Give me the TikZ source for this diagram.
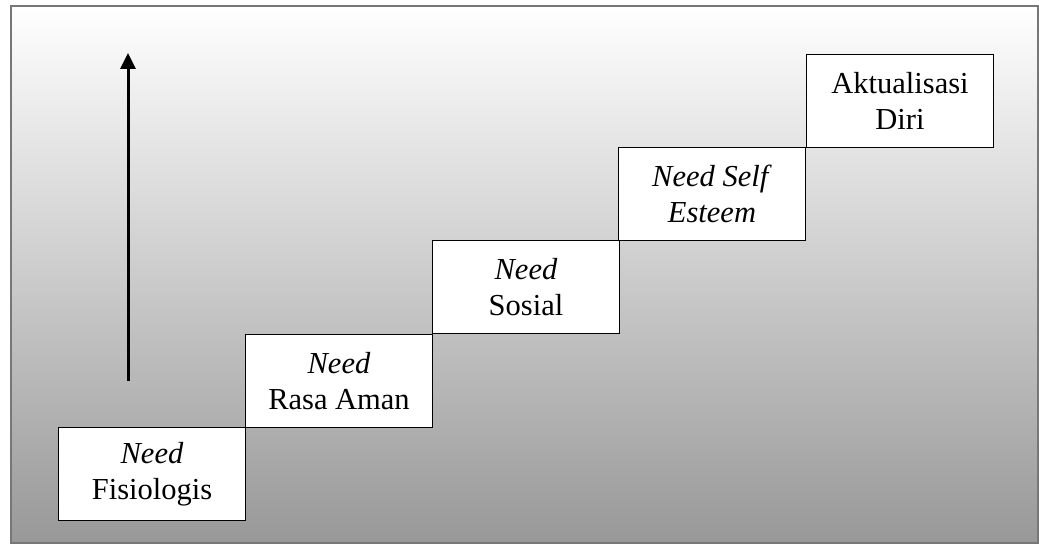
\documentclass[tikz,border=0pt]{standalone}
\usepackage{fontspec}
\setmainfont{Liberation Serif}
\usetikzlibrary{arrows.meta}
\definecolor{framegray}{HTML}{777777}
\definecolor{shadebottom}{HTML}{989898}
\tikzset{
  stair/.style={draw=black, line width=1pt, fill=white, minimum width=187pt,
    minimum height=93pt, inner sep=0pt, align=center,
    font=\fontsize{30.5}{36}\selectfont},
}
\begin{document}
\begin{tikzpicture}[x=1pt,y=-1pt]
\useasboundingbox (0,0) rectangle (1039,545);
% shaded background panel
\shade[top color=white, bottom color=shadebottom] (11,6) rectangle (1038,543);
\draw[framegray, line width=2.2pt] (11,6) rectangle (1038,543);
% upward arrow
\coordinate (arrbot) at (128,381);
\coordinate (arrtop) at (128,53);
\draw[line width=3pt, -{Triangle[length=16pt,width=15pt]}] (arrbot) -- (arrtop);
% the five steps
\node[stair, anchor=north west] (s1) at (58,427) {\textit{Need}\\Fisiologis};
\node[stair, anchor=north west] (s2) at (245,334) {\textit{Need}\\Rasa Aman};
\node[stair, anchor=north west] (s3) at (432,240) {\textit{Need}\\Sosial};
\node[stair, anchor=north west] (s4) at (618,147) {\textit{Need Self}\\\textit{Esteem}};
\node[stair, anchor=north west] (s5) at (806,54) {Aktualisasi\\Diri};
\end{tikzpicture}
\end{document}
